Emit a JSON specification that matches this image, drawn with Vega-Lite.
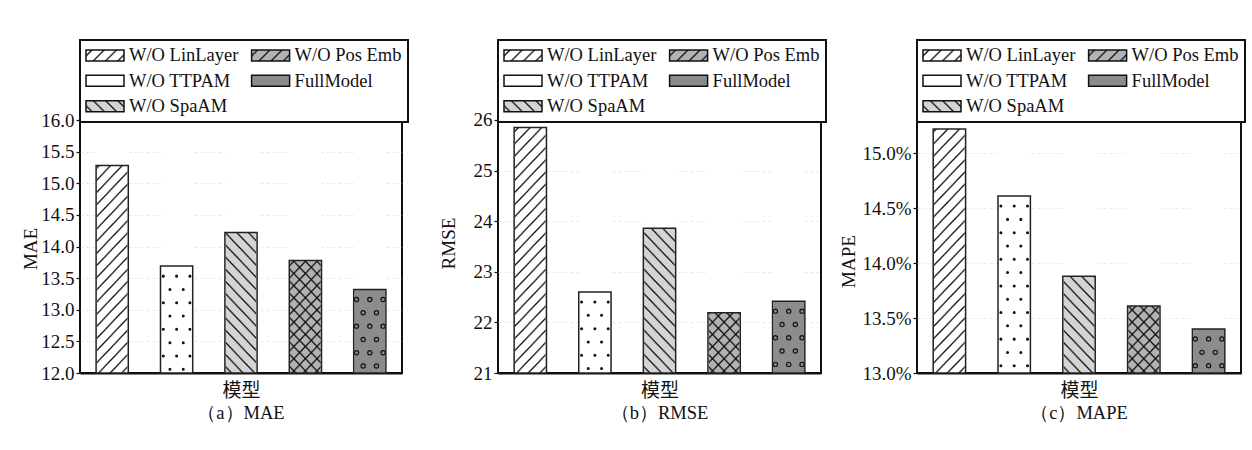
{
  "$schema": "https://vega.github.io/schema/vega-lite/v6.json",
  "background": "#ffffff",
  "padding": {"left": 20, "top": 38, "right": 4, "bottom": 4},
  "params": [
    {"name": "gSlash", "value": {"gradient": "linear", "x1": 0, "y1": 0, "x2": 0.1051, "y2": 1.0866, "stops": [{"offset":0.0117,"color":"transparent"},{"offset":0.0167,"color":"#111"},{"offset":0.0217,"color":"transparent"},{"offset":0.045,"color":"transparent"},{"offset":0.05,"color":"#111"},{"offset":0.055,"color":"transparent"},{"offset":0.0783,"color":"transparent"},{"offset":0.0833,"color":"#111"},{"offset":0.0883,"color":"transparent"},{"offset":0.1117,"color":"transparent"},{"offset":0.1167,"color":"#111"},{"offset":0.1217,"color":"transparent"},{"offset":0.145,"color":"transparent"},{"offset":0.15,"color":"#111"},{"offset":0.155,"color":"transparent"},{"offset":0.1783,"color":"transparent"},{"offset":0.1833,"color":"#111"},{"offset":0.1883,"color":"transparent"},{"offset":0.2117,"color":"transparent"},{"offset":0.2167,"color":"#111"},{"offset":0.2217,"color":"transparent"},{"offset":0.245,"color":"transparent"},{"offset":0.25,"color":"#111"},{"offset":0.255,"color":"transparent"},{"offset":0.2783,"color":"transparent"},{"offset":0.2833,"color":"#111"},{"offset":0.2883,"color":"transparent"},{"offset":0.3117,"color":"transparent"},{"offset":0.3167,"color":"#111"},{"offset":0.3217,"color":"transparent"},{"offset":0.345,"color":"transparent"},{"offset":0.35,"color":"#111"},{"offset":0.355,"color":"transparent"},{"offset":0.3783,"color":"transparent"},{"offset":0.3833,"color":"#111"},{"offset":0.3883,"color":"transparent"},{"offset":0.4117,"color":"transparent"},{"offset":0.4167,"color":"#111"},{"offset":0.4217,"color":"transparent"},{"offset":0.445,"color":"transparent"},{"offset":0.45,"color":"#111"},{"offset":0.455,"color":"transparent"},{"offset":0.4783,"color":"transparent"},{"offset":0.4833,"color":"#111"},{"offset":0.4883,"color":"transparent"},{"offset":0.5117,"color":"transparent"},{"offset":0.5167,"color":"#111"},{"offset":0.5217,"color":"transparent"},{"offset":0.545,"color":"transparent"},{"offset":0.55,"color":"#111"},{"offset":0.555,"color":"transparent"},{"offset":0.5783,"color":"transparent"},{"offset":0.5833,"color":"#111"},{"offset":0.5883,"color":"transparent"},{"offset":0.6117,"color":"transparent"},{"offset":0.6167,"color":"#111"},{"offset":0.6217,"color":"transparent"},{"offset":0.645,"color":"transparent"},{"offset":0.65,"color":"#111"},{"offset":0.655,"color":"transparent"},{"offset":0.6783,"color":"transparent"},{"offset":0.6833,"color":"#111"},{"offset":0.6883,"color":"transparent"},{"offset":0.7117,"color":"transparent"},{"offset":0.7167,"color":"#111"},{"offset":0.7217,"color":"transparent"},{"offset":0.745,"color":"transparent"},{"offset":0.75,"color":"#111"},{"offset":0.755,"color":"transparent"},{"offset":0.7783,"color":"transparent"},{"offset":0.7833,"color":"#111"},{"offset":0.7883,"color":"transparent"},{"offset":0.8117,"color":"transparent"},{"offset":0.8167,"color":"#111"},{"offset":0.8217,"color":"transparent"},{"offset":0.845,"color":"transparent"},{"offset":0.85,"color":"#111"},{"offset":0.855,"color":"transparent"},{"offset":0.8783,"color":"transparent"},{"offset":0.8833,"color":"#111"},{"offset":0.8883,"color":"transparent"},{"offset":0.9117,"color":"transparent"},{"offset":0.9167,"color":"#111"},{"offset":0.9217,"color":"transparent"},{"offset":0.945,"color":"transparent"},{"offset":0.95,"color":"#111"},{"offset":0.955,"color":"transparent"},{"offset":0.9783,"color":"transparent"},{"offset":0.9833,"color":"#111"},{"offset":0.9883,"color":"transparent"}]}},
    {"name": "gBack", "value": {"gradient": "linear", "x1": 0, "y1": 1, "x2": 0.1051, "y2": -0.0866, "stops": [{"offset":0.0117,"color":"transparent"},{"offset":0.0167,"color":"#111"},{"offset":0.0217,"color":"transparent"},{"offset":0.045,"color":"transparent"},{"offset":0.05,"color":"#111"},{"offset":0.055,"color":"transparent"},{"offset":0.0783,"color":"transparent"},{"offset":0.0833,"color":"#111"},{"offset":0.0883,"color":"transparent"},{"offset":0.1117,"color":"transparent"},{"offset":0.1167,"color":"#111"},{"offset":0.1217,"color":"transparent"},{"offset":0.145,"color":"transparent"},{"offset":0.15,"color":"#111"},{"offset":0.155,"color":"transparent"},{"offset":0.1783,"color":"transparent"},{"offset":0.1833,"color":"#111"},{"offset":0.1883,"color":"transparent"},{"offset":0.2117,"color":"transparent"},{"offset":0.2167,"color":"#111"},{"offset":0.2217,"color":"transparent"},{"offset":0.245,"color":"transparent"},{"offset":0.25,"color":"#111"},{"offset":0.255,"color":"transparent"},{"offset":0.2783,"color":"transparent"},{"offset":0.2833,"color":"#111"},{"offset":0.2883,"color":"transparent"},{"offset":0.3117,"color":"transparent"},{"offset":0.3167,"color":"#111"},{"offset":0.3217,"color":"transparent"},{"offset":0.345,"color":"transparent"},{"offset":0.35,"color":"#111"},{"offset":0.355,"color":"transparent"},{"offset":0.3783,"color":"transparent"},{"offset":0.3833,"color":"#111"},{"offset":0.3883,"color":"transparent"},{"offset":0.4117,"color":"transparent"},{"offset":0.4167,"color":"#111"},{"offset":0.4217,"color":"transparent"},{"offset":0.445,"color":"transparent"},{"offset":0.45,"color":"#111"},{"offset":0.455,"color":"transparent"},{"offset":0.4783,"color":"transparent"},{"offset":0.4833,"color":"#111"},{"offset":0.4883,"color":"transparent"},{"offset":0.5117,"color":"transparent"},{"offset":0.5167,"color":"#111"},{"offset":0.5217,"color":"transparent"},{"offset":0.545,"color":"transparent"},{"offset":0.55,"color":"#111"},{"offset":0.555,"color":"transparent"},{"offset":0.5783,"color":"transparent"},{"offset":0.5833,"color":"#111"},{"offset":0.5883,"color":"transparent"},{"offset":0.6117,"color":"transparent"},{"offset":0.6167,"color":"#111"},{"offset":0.6217,"color":"transparent"},{"offset":0.645,"color":"transparent"},{"offset":0.65,"color":"#111"},{"offset":0.655,"color":"transparent"},{"offset":0.6783,"color":"transparent"},{"offset":0.6833,"color":"#111"},{"offset":0.6883,"color":"transparent"},{"offset":0.7117,"color":"transparent"},{"offset":0.7167,"color":"#111"},{"offset":0.7217,"color":"transparent"},{"offset":0.745,"color":"transparent"},{"offset":0.75,"color":"#111"},{"offset":0.755,"color":"transparent"},{"offset":0.7783,"color":"transparent"},{"offset":0.7833,"color":"#111"},{"offset":0.7883,"color":"transparent"},{"offset":0.8117,"color":"transparent"},{"offset":0.8167,"color":"#111"},{"offset":0.8217,"color":"transparent"},{"offset":0.845,"color":"transparent"},{"offset":0.85,"color":"#111"},{"offset":0.855,"color":"transparent"},{"offset":0.8783,"color":"transparent"},{"offset":0.8833,"color":"#111"},{"offset":0.8883,"color":"transparent"},{"offset":0.9117,"color":"transparent"},{"offset":0.9167,"color":"#111"},{"offset":0.9217,"color":"transparent"},{"offset":0.945,"color":"transparent"},{"offset":0.95,"color":"#111"},{"offset":0.955,"color":"transparent"},{"offset":0.9783,"color":"transparent"},{"offset":0.9833,"color":"#111"},{"offset":0.9883,"color":"transparent"}]}},
    {"name": "lSlash", "value": {"gradient": "linear", "x1": 0, "y1": 0, "x2": 1.1898, "y2": 0.3444, "stops": [{"offset":0.0875,"color":"#ffffff"},{"offset":0.125,"color":"#111"},{"offset":0.1625,"color":"#ffffff"},{"offset":0.3375,"color":"#ffffff"},{"offset":0.375,"color":"#111"},{"offset":0.4125,"color":"#ffffff"},{"offset":0.5875,"color":"#ffffff"},{"offset":0.625,"color":"#111"},{"offset":0.6625,"color":"#ffffff"},{"offset":0.8375,"color":"#ffffff"},{"offset":0.875,"color":"#111"},{"offset":0.9125,"color":"#ffffff"}]}},
    {"name": "lSlashGray", "value": {"gradient": "linear", "x1": 0, "y1": 0, "x2": 1.1898, "y2": 0.3444, "stops": [{"offset":0.0875,"color":"#b2b2b2"},{"offset":0.125,"color":"#111"},{"offset":0.1625,"color":"#b2b2b2"},{"offset":0.3375,"color":"#b2b2b2"},{"offset":0.375,"color":"#111"},{"offset":0.4125,"color":"#b2b2b2"},{"offset":0.5875,"color":"#b2b2b2"},{"offset":0.625,"color":"#111"},{"offset":0.6625,"color":"#b2b2b2"},{"offset":0.8375,"color":"#b2b2b2"},{"offset":0.875,"color":"#111"},{"offset":0.9125,"color":"#b2b2b2"}]}},
    {"name": "lBackGray", "value": {"gradient": "linear", "x1": 0, "y1": 1, "x2": 1.1898, "y2": 0.6556, "stops": [{"offset":0.0875,"color":"#d4d4d4"},{"offset":0.125,"color":"#111"},{"offset":0.1625,"color":"#d4d4d4"},{"offset":0.3375,"color":"#d4d4d4"},{"offset":0.375,"color":"#111"},{"offset":0.4125,"color":"#d4d4d4"},{"offset":0.5875,"color":"#d4d4d4"},{"offset":0.625,"color":"#111"},{"offset":0.6625,"color":"#d4d4d4"},{"offset":0.8375,"color":"#d4d4d4"},{"offset":0.875,"color":"#111"},{"offset":0.9125,"color":"#d4d4d4"}]}}
  ],
  "datasets": {
    "mae": [
      {"model": "W/O LinLayer", "value": 15.28},
      {"model": "W/O TTPAM", "value": 13.69},
      {"model": "W/O SpaAM", "value": 14.22},
      {"model": "W/O Pos Emb", "value": 13.78},
      {"model": "FullModel", "value": 13.32}
    ],
    "rmse": [
      {"model": "W/O LinLayer", "value": 25.85},
      {"model": "W/O TTPAM", "value": 22.6},
      {"model": "W/O SpaAM", "value": 23.86},
      {"model": "W/O Pos Emb", "value": 22.19},
      {"model": "FullModel", "value": 22.42}
    ],
    "mape": [
      {"model": "W/O LinLayer", "value": 15.22},
      {"model": "W/O TTPAM", "value": 14.61},
      {"model": "W/O SpaAM", "value": 13.88},
      {"model": "W/O Pos Emb", "value": 13.61},
      {"model": "FullModel", "value": 13.4}
    ]
  },
  "hconcat": [
    {
      "width": 322, "height": 333,
      "data": {"name": "mae"},
      "title": {"text": "（a）MAE"},
      "encoding": {
        "x": {"field": "model", "type": "nominal", "sort": ["W/O LinLayer", "W/O TTPAM", "W/O SpaAM", "W/O Pos Emb", "FullModel"], "scale": {"paddingInner": 0.5, "paddingOuter": 0.25}, "axis": {"title": "模型"}},
        "y": {"field": "value", "type": "quantitative", "scale": {"domain": [12, 17.265], "nice": false, "zero": false}, "axis": {"title": "MAE", "values": [12, 12.5, 13, 13.5, 14, 14.5, 15, 15.5, 16], "format": ".1f", "titleX": -44, "titleY": 208.5}}
      },
      "layer": [
        {"mark": {"type": "bar", "width": {"band": 0.95}}, "encoding": {"y": {"datum": 17.265, "type": "quantitative"}, "y2": {"datum": 12}, "fill": {"field": "model", "type": "nominal", "scale": {"domain": ["W/O LinLayer", "W/O TTPAM", "W/O SpaAM", "W/O Pos Emb", "FullModel"], "range": ["#ffffff", "#ffffff", "#d4d4d4", "#b2b2b2", "#8c8c8c"]}, "legend": null}}},
        {"transform": [{"filter": {"field": "model", "oneOf": ["W/O LinLayer", "W/O Pos Emb"]}}], "mark": {"type": "bar", "width": {"band": 0.95}, "fill": {"expr": "gSlash"}}, "encoding": {"y": {"datum": 17.265, "type": "quantitative"}, "y2": {"datum": 12}}},
        {"transform": [{"filter": {"field": "model", "oneOf": ["W/O SpaAM", "W/O Pos Emb"]}}], "mark": {"type": "bar", "width": {"band": 0.95}, "fill": {"expr": "gBack"}}, "encoding": {"y": {"datum": 17.265, "type": "quantitative"}, "y2": {"datum": 12}}},
        {"mark": {"type": "bar", "fill": "#ffffff"}, "encoding": {"y2": {"datum": 17.265}}},
        {"transform": [{"filter": {"field": "model", "oneOf": ["W/O TTPAM", "FullModel"]}}], "mark": {"type": "rule", "xOffset": -13.3, "strokeDash": [0.01, 26.6], "strokeDashOffset": 16.6, "strokeCap": "round", "color": "#111"}, "encoding": {"y2": {"datum": 12}, "strokeWidth": {"condition": {"test": "datum.model === 'FullModel'", "value": 5.4}, "value": 3}}},
        {"transform": [{"filter": {"field": "model", "oneOf": ["W/O TTPAM", "FullModel"]}}], "mark": {"type": "rule", "xOffset": 0, "strokeDash": [0.01, 26.6], "strokeDashOffset": 16.6, "strokeCap": "round", "color": "#111"}, "encoding": {"y2": {"datum": 12}, "strokeWidth": {"condition": {"test": "datum.model === 'FullModel'", "value": 5.4}, "value": 3}}},
        {"transform": [{"filter": {"field": "model", "oneOf": ["W/O TTPAM", "FullModel"]}}], "mark": {"type": "rule", "xOffset": 13.3, "strokeDash": [0.01, 26.6], "strokeDashOffset": 16.6, "strokeCap": "round", "color": "#111"}, "encoding": {"y2": {"datum": 12}, "strokeWidth": {"condition": {"test": "datum.model === 'FullModel'", "value": 5.4}, "value": 3}}},
        {"transform": [{"filter": {"field": "model", "oneOf": ["W/O TTPAM", "FullModel"]}}], "mark": {"type": "rule", "xOffset": -6.65, "strokeDash": [0.01, 26.6], "strokeDashOffset": 3.3, "strokeCap": "round", "color": "#111"}, "encoding": {"y2": {"datum": 12}, "strokeWidth": {"condition": {"test": "datum.model === 'FullModel'", "value": 5.4}, "value": 3}}},
        {"transform": [{"filter": {"field": "model", "oneOf": ["W/O TTPAM", "FullModel"]}}], "mark": {"type": "rule", "xOffset": 6.65, "strokeDash": [0.01, 26.6], "strokeDashOffset": 3.3, "strokeCap": "round", "color": "#111"}, "encoding": {"y2": {"datum": 12}, "strokeWidth": {"condition": {"test": "datum.model === 'FullModel'", "value": 5.4}, "value": 3}}},
        {"transform": [{"filter": "datum.model === 'FullModel'"}], "mark": {"type": "rule", "xOffset": -13.3, "strokeDash": [0.01, 26.6], "strokeDashOffset": 16.6, "strokeCap": "round", "strokeWidth": 3, "color": "#8c8c8c"}, "encoding": {"y2": {"datum": 12}}},
        {"transform": [{"filter": "datum.model === 'FullModel'"}], "mark": {"type": "rule", "xOffset": 0, "strokeDash": [0.01, 26.6], "strokeDashOffset": 16.6, "strokeCap": "round", "strokeWidth": 3, "color": "#8c8c8c"}, "encoding": {"y2": {"datum": 12}}},
        {"transform": [{"filter": "datum.model === 'FullModel'"}], "mark": {"type": "rule", "xOffset": 13.3, "strokeDash": [0.01, 26.6], "strokeDashOffset": 16.6, "strokeCap": "round", "strokeWidth": 3, "color": "#8c8c8c"}, "encoding": {"y2": {"datum": 12}}},
        {"transform": [{"filter": "datum.model === 'FullModel'"}], "mark": {"type": "rule", "xOffset": -6.65, "strokeDash": [0.01, 26.6], "strokeDashOffset": 3.3, "strokeCap": "round", "strokeWidth": 3, "color": "#8c8c8c"}, "encoding": {"y2": {"datum": 12}}},
        {"transform": [{"filter": "datum.model === 'FullModel'"}], "mark": {"type": "rule", "xOffset": 6.65, "strokeDash": [0.01, 26.6], "strokeDashOffset": 3.3, "strokeCap": "round", "strokeWidth": 3, "color": "#8c8c8c"}, "encoding": {"y2": {"datum": 12}}},
        {"mark": {"type": "bar", "fill": "transparent", "stroke": "#222", "strokeWidth": 1.5}, "encoding": {"y2": {"datum": 12}}},
        {"mark": {"type": "bar"}, "encoding": {"y": {"datum": 12, "type": "quantitative"}, "y2": {"datum": 12}, "fill": {"field": "model", "type": "nominal", "scale": {"domain": ["W/O LinLayer", "W/O TTPAM", "W/O SpaAM", "W/O Pos Emb", "FullModel"], "range": [{"expr": "lSlash"}, "#ffffff", {"expr": "lBackGray"}, {"expr": "lSlashGray"}, "#8c8c8c"]}, "legend": {"title": null, "orient": "none", "legendX": 0, "legendY": 0, "columns": 2, "symbolType": "M-1.682,-1H5.227V1H-1.682Z", "symbolSize": 121, "symbolStrokeColor": "#111", "symbolStrokeWidth": 1.5, "labelOffset": 24.5, "labelFont": "Liberation Serif", "labelFontSize": 18.5, "labelColor": "#111", "columnPadding": 8.6, "rowPadding": 6.5, "padding": 6, "strokeColor": "#111", "fillColor": "#ffffff", "encode": {"symbols": {"update": {"stroke": {"value": "#111"}, "strokeWidth": {"value": 1.5}}}, "legend": {"update": {"stroke": {"value": "#111"}, "strokeWidth": {"value": 2}}}}}}}}
      ],
      "resolve": {"scale": {"fill": "independent"}}
    },
    {
      "width": 323, "height": 333,
      "data": {"name": "rmse"},
      "title": {"text": "（b）RMSE"},
      "encoding": {
        "x": {"field": "model", "type": "nominal", "sort": ["W/O LinLayer", "W/O TTPAM", "W/O SpaAM", "W/O Pos Emb", "FullModel"], "scale": {"paddingInner": 0.5, "paddingOuter": 0.25}, "axis": {"title": "模型"}},
        "y": {"field": "value", "type": "quantitative", "scale": {"domain": [21, 27.58], "nice": false, "zero": false}, "axis": {"title": "RMSE", "values": [21, 22, 23, 24, 25, 26], "format": "d", "titleX": -44, "titleY": 203}}
      },
      "layer": [
        {"mark": {"type": "bar", "width": {"band": 0.95}}, "encoding": {"y": {"datum": 27.58, "type": "quantitative"}, "y2": {"datum": 21}, "fill": {"field": "model", "type": "nominal", "scale": {"domain": ["W/O LinLayer", "W/O TTPAM", "W/O SpaAM", "W/O Pos Emb", "FullModel"], "range": ["#ffffff", "#ffffff", "#d4d4d4", "#b2b2b2", "#8c8c8c"]}, "legend": null}}},
        {"transform": [{"filter": {"field": "model", "oneOf": ["W/O LinLayer", "W/O Pos Emb"]}}], "mark": {"type": "bar", "width": {"band": 0.95}, "fill": {"expr": "gSlash"}}, "encoding": {"y": {"datum": 27.58, "type": "quantitative"}, "y2": {"datum": 21}}},
        {"transform": [{"filter": {"field": "model", "oneOf": ["W/O SpaAM", "W/O Pos Emb"]}}], "mark": {"type": "bar", "width": {"band": 0.95}, "fill": {"expr": "gBack"}}, "encoding": {"y": {"datum": 27.58, "type": "quantitative"}, "y2": {"datum": 21}}},
        {"mark": {"type": "bar", "fill": "#ffffff"}, "encoding": {"y2": {"datum": 27.58}}},
        {"transform": [{"filter": {"field": "model", "oneOf": ["W/O TTPAM", "FullModel"]}}], "mark": {"type": "rule", "xOffset": -13.3, "strokeDash": [0.01, 26.6], "strokeDashOffset": 16.6, "strokeCap": "round", "color": "#111"}, "encoding": {"y2": {"datum": 21}, "strokeWidth": {"condition": {"test": "datum.model === 'FullModel'", "value": 5.4}, "value": 3}}},
        {"transform": [{"filter": {"field": "model", "oneOf": ["W/O TTPAM", "FullModel"]}}], "mark": {"type": "rule", "xOffset": 0, "strokeDash": [0.01, 26.6], "strokeDashOffset": 16.6, "strokeCap": "round", "color": "#111"}, "encoding": {"y2": {"datum": 21}, "strokeWidth": {"condition": {"test": "datum.model === 'FullModel'", "value": 5.4}, "value": 3}}},
        {"transform": [{"filter": {"field": "model", "oneOf": ["W/O TTPAM", "FullModel"]}}], "mark": {"type": "rule", "xOffset": 13.3, "strokeDash": [0.01, 26.6], "strokeDashOffset": 16.6, "strokeCap": "round", "color": "#111"}, "encoding": {"y2": {"datum": 21}, "strokeWidth": {"condition": {"test": "datum.model === 'FullModel'", "value": 5.4}, "value": 3}}},
        {"transform": [{"filter": {"field": "model", "oneOf": ["W/O TTPAM", "FullModel"]}}], "mark": {"type": "rule", "xOffset": -6.65, "strokeDash": [0.01, 26.6], "strokeDashOffset": 3.3, "strokeCap": "round", "color": "#111"}, "encoding": {"y2": {"datum": 21}, "strokeWidth": {"condition": {"test": "datum.model === 'FullModel'", "value": 5.4}, "value": 3}}},
        {"transform": [{"filter": {"field": "model", "oneOf": ["W/O TTPAM", "FullModel"]}}], "mark": {"type": "rule", "xOffset": 6.65, "strokeDash": [0.01, 26.6], "strokeDashOffset": 3.3, "strokeCap": "round", "color": "#111"}, "encoding": {"y2": {"datum": 21}, "strokeWidth": {"condition": {"test": "datum.model === 'FullModel'", "value": 5.4}, "value": 3}}},
        {"transform": [{"filter": "datum.model === 'FullModel'"}], "mark": {"type": "rule", "xOffset": -13.3, "strokeDash": [0.01, 26.6], "strokeDashOffset": 16.6, "strokeCap": "round", "strokeWidth": 3, "color": "#8c8c8c"}, "encoding": {"y2": {"datum": 21}}},
        {"transform": [{"filter": "datum.model === 'FullModel'"}], "mark": {"type": "rule", "xOffset": 0, "strokeDash": [0.01, 26.6], "strokeDashOffset": 16.6, "strokeCap": "round", "strokeWidth": 3, "color": "#8c8c8c"}, "encoding": {"y2": {"datum": 21}}},
        {"transform": [{"filter": "datum.model === 'FullModel'"}], "mark": {"type": "rule", "xOffset": 13.3, "strokeDash": [0.01, 26.6], "strokeDashOffset": 16.6, "strokeCap": "round", "strokeWidth": 3, "color": "#8c8c8c"}, "encoding": {"y2": {"datum": 21}}},
        {"transform": [{"filter": "datum.model === 'FullModel'"}], "mark": {"type": "rule", "xOffset": -6.65, "strokeDash": [0.01, 26.6], "strokeDashOffset": 3.3, "strokeCap": "round", "strokeWidth": 3, "color": "#8c8c8c"}, "encoding": {"y2": {"datum": 21}}},
        {"transform": [{"filter": "datum.model === 'FullModel'"}], "mark": {"type": "rule", "xOffset": 6.65, "strokeDash": [0.01, 26.6], "strokeDashOffset": 3.3, "strokeCap": "round", "strokeWidth": 3, "color": "#8c8c8c"}, "encoding": {"y2": {"datum": 21}}},
        {"mark": {"type": "bar", "fill": "transparent", "stroke": "#222", "strokeWidth": 1.5}, "encoding": {"y2": {"datum": 21}}},
        {"mark": {"type": "bar"}, "encoding": {"y": {"datum": 21, "type": "quantitative"}, "y2": {"datum": 21}, "fill": {"field": "model", "type": "nominal", "scale": {"domain": ["W/O LinLayer", "W/O TTPAM", "W/O SpaAM", "W/O Pos Emb", "FullModel"], "range": [{"expr": "lSlash"}, "#ffffff", {"expr": "lBackGray"}, {"expr": "lSlashGray"}, "#8c8c8c"]}, "legend": {"title": null, "orient": "none", "legendX": 0, "legendY": 0, "columns": 2, "symbolType": "M-1.682,-1H5.227V1H-1.682Z", "symbolSize": 121, "symbolStrokeColor": "#111", "symbolStrokeWidth": 1.5, "labelOffset": 24.5, "labelFont": "Liberation Serif", "labelFontSize": 18.5, "labelColor": "#111", "columnPadding": 8.6, "rowPadding": 6.5, "padding": 6, "strokeColor": "#111", "fillColor": "#ffffff", "encode": {"symbols": {"update": {"stroke": {"value": "#111"}, "strokeWidth": {"value": 1.5}}}, "legend": {"update": {"stroke": {"value": "#111"}, "strokeWidth": {"value": 2}}}}}}}}
      ],
      "resolve": {"scale": {"fill": "independent"}}
    },
    {
      "width": 324, "height": 333,
      "data": {"name": "mape"},
      "title": {"text": "（c）MAPE"},
      "encoding": {
        "x": {"field": "model", "type": "nominal", "sort": ["W/O LinLayer", "W/O TTPAM", "W/O SpaAM", "W/O Pos Emb", "FullModel"], "scale": {"paddingInner": 0.5, "paddingOuter": 0.25}, "axis": {"title": "模型"}},
        "y": {"field": "value", "type": "quantitative", "scale": {"domain": [13, 16.03], "nice": false, "zero": false}, "axis": {"title": "MAPE", "values": [13, 13.5, 14, 14.5, 15], "labelExpr": "format(datum.value, '.1f') + '%'", "titleX": -63, "titleY": 221}}
      },
      "layer": [
        {"mark": {"type": "bar", "width": {"band": 0.95}}, "encoding": {"y": {"datum": 16.03, "type": "quantitative"}, "y2": {"datum": 13}, "fill": {"field": "model", "type": "nominal", "scale": {"domain": ["W/O LinLayer", "W/O TTPAM", "W/O SpaAM", "W/O Pos Emb", "FullModel"], "range": ["#ffffff", "#ffffff", "#d4d4d4", "#b2b2b2", "#8c8c8c"]}, "legend": null}}},
        {"transform": [{"filter": {"field": "model", "oneOf": ["W/O LinLayer", "W/O Pos Emb"]}}], "mark": {"type": "bar", "width": {"band": 0.95}, "fill": {"expr": "gSlash"}}, "encoding": {"y": {"datum": 16.03, "type": "quantitative"}, "y2": {"datum": 13}}},
        {"transform": [{"filter": {"field": "model", "oneOf": ["W/O SpaAM", "W/O Pos Emb"]}}], "mark": {"type": "bar", "width": {"band": 0.95}, "fill": {"expr": "gBack"}}, "encoding": {"y": {"datum": 16.03, "type": "quantitative"}, "y2": {"datum": 13}}},
        {"mark": {"type": "bar", "fill": "#ffffff"}, "encoding": {"y2": {"datum": 16.03}}},
        {"transform": [{"filter": {"field": "model", "oneOf": ["W/O TTPAM", "FullModel"]}}], "mark": {"type": "rule", "xOffset": -13.3, "strokeDash": [0.01, 26.6], "strokeDashOffset": 16.6, "strokeCap": "round", "color": "#111"}, "encoding": {"y2": {"datum": 13}, "strokeWidth": {"condition": {"test": "datum.model === 'FullModel'", "value": 5.4}, "value": 3}}},
        {"transform": [{"filter": {"field": "model", "oneOf": ["W/O TTPAM", "FullModel"]}}], "mark": {"type": "rule", "xOffset": 0, "strokeDash": [0.01, 26.6], "strokeDashOffset": 16.6, "strokeCap": "round", "color": "#111"}, "encoding": {"y2": {"datum": 13}, "strokeWidth": {"condition": {"test": "datum.model === 'FullModel'", "value": 5.4}, "value": 3}}},
        {"transform": [{"filter": {"field": "model", "oneOf": ["W/O TTPAM", "FullModel"]}}], "mark": {"type": "rule", "xOffset": 13.3, "strokeDash": [0.01, 26.6], "strokeDashOffset": 16.6, "strokeCap": "round", "color": "#111"}, "encoding": {"y2": {"datum": 13}, "strokeWidth": {"condition": {"test": "datum.model === 'FullModel'", "value": 5.4}, "value": 3}}},
        {"transform": [{"filter": {"field": "model", "oneOf": ["W/O TTPAM", "FullModel"]}}], "mark": {"type": "rule", "xOffset": -6.65, "strokeDash": [0.01, 26.6], "strokeDashOffset": 3.3, "strokeCap": "round", "color": "#111"}, "encoding": {"y2": {"datum": 13}, "strokeWidth": {"condition": {"test": "datum.model === 'FullModel'", "value": 5.4}, "value": 3}}},
        {"transform": [{"filter": {"field": "model", "oneOf": ["W/O TTPAM", "FullModel"]}}], "mark": {"type": "rule", "xOffset": 6.65, "strokeDash": [0.01, 26.6], "strokeDashOffset": 3.3, "strokeCap": "round", "color": "#111"}, "encoding": {"y2": {"datum": 13}, "strokeWidth": {"condition": {"test": "datum.model === 'FullModel'", "value": 5.4}, "value": 3}}},
        {"transform": [{"filter": "datum.model === 'FullModel'"}], "mark": {"type": "rule", "xOffset": -13.3, "strokeDash": [0.01, 26.6], "strokeDashOffset": 16.6, "strokeCap": "round", "strokeWidth": 3, "color": "#8c8c8c"}, "encoding": {"y2": {"datum": 13}}},
        {"transform": [{"filter": "datum.model === 'FullModel'"}], "mark": {"type": "rule", "xOffset": 0, "strokeDash": [0.01, 26.6], "strokeDashOffset": 16.6, "strokeCap": "round", "strokeWidth": 3, "color": "#8c8c8c"}, "encoding": {"y2": {"datum": 13}}},
        {"transform": [{"filter": "datum.model === 'FullModel'"}], "mark": {"type": "rule", "xOffset": 13.3, "strokeDash": [0.01, 26.6], "strokeDashOffset": 16.6, "strokeCap": "round", "strokeWidth": 3, "color": "#8c8c8c"}, "encoding": {"y2": {"datum": 13}}},
        {"transform": [{"filter": "datum.model === 'FullModel'"}], "mark": {"type": "rule", "xOffset": -6.65, "strokeDash": [0.01, 26.6], "strokeDashOffset": 3.3, "strokeCap": "round", "strokeWidth": 3, "color": "#8c8c8c"}, "encoding": {"y2": {"datum": 13}}},
        {"transform": [{"filter": "datum.model === 'FullModel'"}], "mark": {"type": "rule", "xOffset": 6.65, "strokeDash": [0.01, 26.6], "strokeDashOffset": 3.3, "strokeCap": "round", "strokeWidth": 3, "color": "#8c8c8c"}, "encoding": {"y2": {"datum": 13}}},
        {"mark": {"type": "bar", "fill": "transparent", "stroke": "#222", "strokeWidth": 1.5}, "encoding": {"y2": {"datum": 13}}},
        {"mark": {"type": "bar"}, "encoding": {"y": {"datum": 13, "type": "quantitative"}, "y2": {"datum": 13}, "fill": {"field": "model", "type": "nominal", "scale": {"domain": ["W/O LinLayer", "W/O TTPAM", "W/O SpaAM", "W/O Pos Emb", "FullModel"], "range": [{"expr": "lSlash"}, "#ffffff", {"expr": "lBackGray"}, {"expr": "lSlashGray"}, "#8c8c8c"]}, "legend": {"title": null, "orient": "none", "legendX": 0, "legendY": 0, "columns": 2, "symbolType": "M-1.682,-1H5.227V1H-1.682Z", "symbolSize": 121, "symbolStrokeColor": "#111", "symbolStrokeWidth": 1.5, "labelOffset": 24.5, "labelFont": "Liberation Serif", "labelFontSize": 18.5, "labelColor": "#111", "columnPadding": 8.6, "rowPadding": 6.5, "padding": 6, "strokeColor": "#111", "fillColor": "#ffffff", "encode": {"symbols": {"update": {"stroke": {"value": "#111"}, "strokeWidth": {"value": 1.5}}}, "legend": {"update": {"stroke": {"value": "#111"}, "strokeWidth": {"value": 2}}}}}}}}
      ],
      "resolve": {"scale": {"fill": "independent"}}
    }
  ],
  "spacing": 96,
  "bounds": "flush",
  "resolve": {"scale": {"x": "independent", "y": "independent", "fill": "independent"}, "legend": {"fill": "independent"}},
  "config": {
    "font": "Liberation Serif",
    "view": {"stroke": "#111", "strokeWidth": 2},
    "axis": {"labelFont": "Liberation Serif", "titleFont": "Liberation Serif", "labelFontSize": 19, "titleFontSize": 19, "titleFontWeight": "normal", "labelColor": "#111", "titleColor": "#111", "tickColor": "#111"},
    "axisY": {"domain": false, "tickSize": 4, "tickWidth": 1.2, "labelPadding": 2, "grid": true, "gridColor": "#e2e2e2", "gridDash": [3, 3], "gridWidth": 0.8, "zindex": 1, "titleAngle": -90, "titleAlign": "center", "titleBaseline": "alphabetic"},
    "axisX": {"grid": false, "labels": false, "ticks": false, "domain": true, "domainColor": "#111", "domainWidth": 2, "zindex": 1, "titlePadding": 8, "titleFont": "Noto Sans CJK SC", "titleFontSize": 19},
    "title": {"orient": "bottom", "anchor": "middle", "font": "Liberation Serif", "fontSize": 18.5, "fontWeight": "normal", "color": "#111", "offset": 4}
  }
}
